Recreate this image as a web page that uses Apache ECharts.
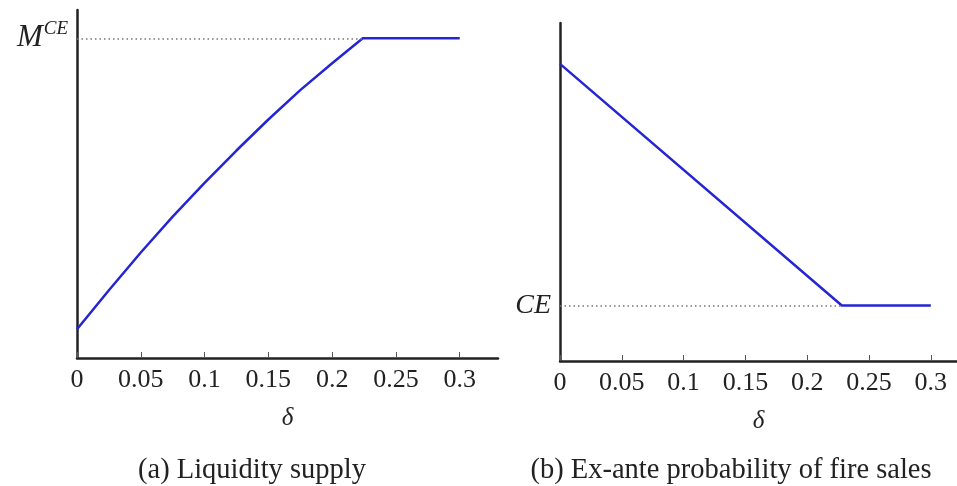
<!DOCTYPE html>
<html>
<head>
<meta charset="utf-8">
<script src="https://cdn.jsdelivr.net/npm/echarts@6/dist/echarts.min.js"></script>
<style>
html,body{margin:0;padding:0;background:#fff;}
#c{width:957px;height:486px;}
</style>
</head>
<body>
<div id="c"></div>
<script>
// Panel (a): liquidity supply vs delta (M^CE normalised to 1)
const deltaA = [0, 0.025, 0.05, 0.075, 0.1, 0.125, 0.15, 0.175, 0.2, 0.224, 0.3];
const supplyA = [0.09, 0.212, 0.33, 0.442, 0.548, 0.649, 0.746, 0.838, 0.922, 1.0, 1.0];
const levelA = 1.0;      // M^CE
const kinkA = 0.224;

// Panel (b): ex-ante probability of fire sales vs delta
const deltaB = [0, 0.228, 0.3];
const probB = [0.879, 0.164, 0.164];
const levelB = 0.164;    // CE
const kinkB = 0.228;

const xTicks = [0, 0.05, 0.1, 0.15, 0.2, 0.25, 0.3];
const xTickLabels = ['0', '0.05', '0.1', '0.15', '0.2', '0.25', '0.3'];
const captions = ['(a) Liquidity supply', '(b) Ex-ante probability of fire sales'];

const serif = "'Liberation Serif', 'DejaVu Serif', serif";
const axisCol = '#222';
const lineCol = '#2525d4';

function pairs(xs, ys){ return xs.map((x,i)=>[x, ys[i]]); }

function xAxisCfg(idx, max){
  return {
    type:'value', gridIndex: idx, min:0, max:max,
    name:'δ', nameLocation:'middle', nameGap:48,
    nameTextStyle:{fontFamily:serif, fontStyle:'italic', fontSize:25, color:'#222'},
    axisLine:{show:true, onZero:false, lineStyle:{color:axisCol, width:2.5}},
    axisTick:{show:true, inside:true, length:6, customValues:xTicks, lineStyle:{color:'#555', width:1}},
    axisLabel:{customValues:xTicks, margin:9, fontFamily:serif, fontSize:26, color:'#222',
      formatter:(v)=>{ const i = xTicks.findIndex(t=>Math.abs(t-v)<1e-9); return i>=0 ? xTickLabels[i] : ''; }},
    splitLine:{show:false}
  };
}

function yAxisCfg(idx, max, val, fmt, rich){
  return {
    type:'value', gridIndex: idx, min:0, max:max,
    axisLine:{show:true, onZero:false, lineStyle:{color:axisCol, width:2.5}},
    axisTick:{show:false},
    axisLabel:{customValues:[val], margin:9, formatter:fmt, rich:rich},
    splitLine:{show:false}
  };
}

const option = {
  backgroundColor:'#fff',
  animation:false,
  title:[
    {text:captions[0], left:247, top:451, textAlign:'center',
     textStyle:{fontFamily:serif, fontWeight:'normal', fontSize:28.5, color:'#222'}},
    {text:captions[1], left:726, top:451, textAlign:'center',
     textStyle:{fontFamily:serif, fontWeight:'normal', fontSize:28.5, color:'#222'}}
  ],
  grid:[
    {left:77, top:10, width:421, height:348},
    {left:560, top:23, width:397, height:338}
  ],
  xAxis:[ xAxisCfg(0, 0.33), xAxisCfg(1, 0.3212) ],
  yAxis:[
    yAxisCfg(0, 1.0885, levelA, ()=> '{m|M}{s|CE}', {
      m:{fontFamily:serif, fontStyle:'italic', fontSize:31, color:'#222'},
      s:{fontFamily:serif, fontStyle:'italic', fontSize:19, color:'#222', padding:[0,0,18,1]}
    }),
    yAxisCfg(1, 1.0, levelB, ()=> '{c|CE}', {
      c:{fontFamily:serif, fontStyle:'italic', fontSize:28, color:'#222'}
    })
  ],
  series:[
    {type:'line', xAxisIndex:0, yAxisIndex:0, data:pairs(deltaA, supplyA),
     showSymbol:false, smooth:false, lineStyle:{color:lineCol, width:2.5},
     markLine:{silent:true, symbol:'none', label:{show:false},
       lineStyle:{color:'#777', type:[1.5,3], width:1.5},
       data:[[{coord:[0, levelA]}, {coord:[kinkA, levelA]}]]}},
    {type:'line', xAxisIndex:1, yAxisIndex:1, data:pairs(deltaB, probB),
     showSymbol:false, lineStyle:{color:lineCol, width:2.5},
     markLine:{silent:true, symbol:'none', label:{show:false},
       lineStyle:{color:'#777', type:[1.5,3], width:1.5},
       data:[[{coord:[0, levelB]}, {coord:[kinkB, levelB]}]]}}
  ]
};

const chart = echarts.init(document.getElementById('c'), null, {renderer:'canvas'});
chart.setOption(option);
</script>
</body>
</html>
